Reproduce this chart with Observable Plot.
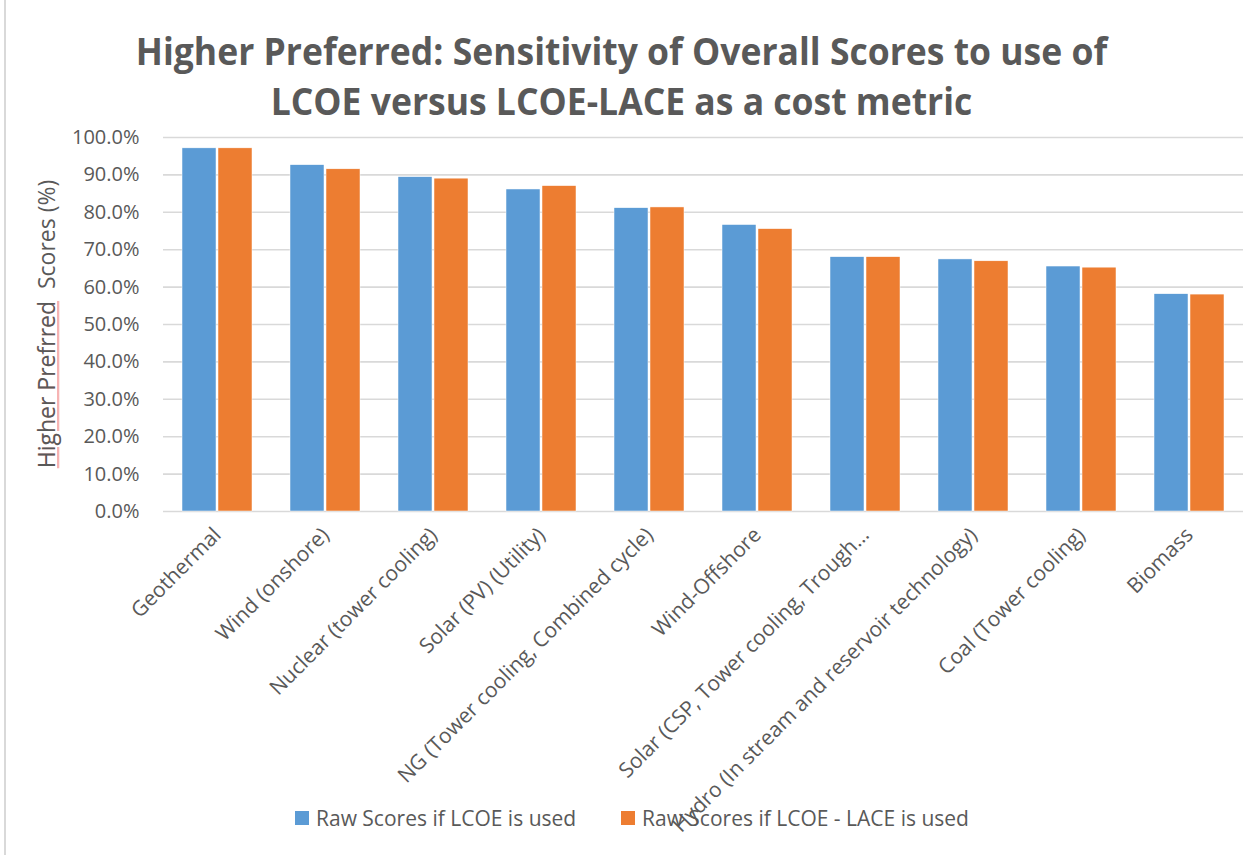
<!DOCTYPE html>
<html>
<head>
<meta charset="utf-8">
<script src="https://cdn.jsdelivr.net/npm/d3@7"></script>
<script src="https://cdn.jsdelivr.net/npm/@observablehq/plot@0.6"></script>
<style>
  body { margin: 0; background: #fff; font-family: "Open Sans", sans-serif; }
  #wrap { position: relative; width: 1243px; height: 855px; overflow: hidden; background: #fff; }
  #border { position: absolute; left: 4px; top: 0; width: 2px; height: 855px; background: #d9d9d9; }
  #title { position: absolute; left: 0; width: 1243px; top: 25.5px; text-align: center; color: #595959;
           font-weight: 700; font-size: 35.5px; line-height: 47.6px; transform: scaleY(1.05); transform-origin: top; }
  #chart { position: absolute; left: 0; top: 105px; }
  #chart svg { overflow: visible; }
  #legend { position: absolute; top: 804px; left: 295px; font-size: 21px; color: #595959; white-space: nowrap; }
  .item { position: absolute; top: 0; display: flex; align-items: center; }
  .sw { width: 14px; height: 14px; margin-right: 7px; }
</style>
</head>
<body>
<div id="wrap">
  <div id="border"></div>
  <div id="title"></div>
  <div id="chart"></div>
  <div id="legend"></div>
</div>
<script>
const titleLines = ["Higher Preferred: Sensitivity of Overall Scores to use of", "LCOE versus LCOE-LACE as a cost metric"];
const yTitleUnderlined = "Higher Prefrred";
const yTitleRest = "  Scores (%)";
const categories = [
  "Geothermal",
  "Wind (onshore)",
  "Nuclear (tower cooling)",
  "Solar (PV) (Utility)",
  "NG (Tower cooling, Combined cycle)",
  "Wind-Offshore",
  "Solar (CSP, Tower cooling, Trough…",
  "Hydro (In stream and reservoir technology)",
  "Coal (Tower cooling)",
  "Biomass"
];
const seriesNames = ["Raw Scores if LCOE is used", "Raw Scores if LCOE - LACE is used"];
const seriesColors = ["#5b9bd5", "#ed7d31"];
const lcoe = [97.1, 92.6, 89.4, 86.1, 81.1, 76.6, 68.0, 67.4, 65.5, 58.1];
const lcoeLace = [97.1, 91.5, 89.0, 87.0, 81.3, 75.5, 68.0, 66.9, 65.2, 58.0];
const yTicks = [0, 10, 20, 30, 40, 50, 60, 70, 80, 90, 100];

document.getElementById("title").innerHTML = titleLines.map(l => `<div>${l}</div>`).join("");

const data = [];
categories.forEach((c, i) => {
  data.push({category: c, series: seriesNames[0], value: lcoe[i]});
  data.push({category: c, series: seriesNames[1], value: lcoeLace[i]});
});

const MT = 32, MB = 344, H = 750;
const plot = Plot.plot({
  width: 1243,
  height: H,
  marginTop: MT,
  marginLeft: 163,
  marginRight: 0,
  marginBottom: MB,
  style: {fontFamily: "'Open Sans', sans-serif", fontSize: "20px", color: "#595959", background: "transparent", overflow: "visible"},
  fx: {domain: categories, padding: 0, label: null},
  x: {domain: seriesNames, paddingInner: 0.054, paddingOuter: 0.488, axis: null},
  y: {domain: [0, 100], label: null},
  color: {domain: seriesNames, range: seriesColors},
  marks: [
    Plot.gridY(yTicks, {stroke: "#d9d9d9", strokeOpacity: 1, strokeWidth: 1.6}),
    Plot.barY(data, {fx: "category", x: "series", y: "value", fill: "series", stroke: "white", strokeWidth: 0.5}),
    Plot.axisY(yTicks, {tickSize: 0, tickPadding: 24, tickFormat: d => d.toFixed(1) + "%", fontSize: 20, fill: "#595959"}),
    Plot.axisFx({anchor: "bottom", tickSize: 0, tickPadding: 20, tickRotate: -45, fontSize: 21, fill: "#595959", label: null})
  ]
});
document.getElementById("chart").appendChild(plot);

// y-axis title: a pale red underline (spell-check style) under the first words, then the grey text on top
const svg = d3.select(plot);
const cy = MT + (H - MT - MB) / 2;
function yTitle(underlineLayer) {
  const t = svg.append("text")
    .attr("transform", `translate(55, ${cy}) rotate(-90)`)
    .attr("text-anchor", "middle")
    .attr("font-size", 23)
    .attr("font-family", "'Open Sans', sans-serif")
    .style("white-space", "pre");
  const a = t.append("tspan").text(yTitleUnderlined);
  const b = t.append("tspan").text(yTitleRest);
  if (underlineLayer) {
    a.attr("fill", "#f6b3b3").style("text-decoration", "underline");
    b.attr("fill", "none");
  } else {
    t.attr("fill", "#595959");
  }
}
yTitle(true);
yTitle(false);

const legend = document.getElementById("legend");
const offsets = [0, 326];
seriesNames.forEach((s, i) => {
  const d = document.createElement("div");
  d.className = "item";
  d.style.left = offsets[i] + "px";
  d.innerHTML = `<span class="sw" style="background:${seriesColors[i]}"></span><span>${s}</span>`;
  legend.appendChild(d);
});
</script>
</body>
</html>
